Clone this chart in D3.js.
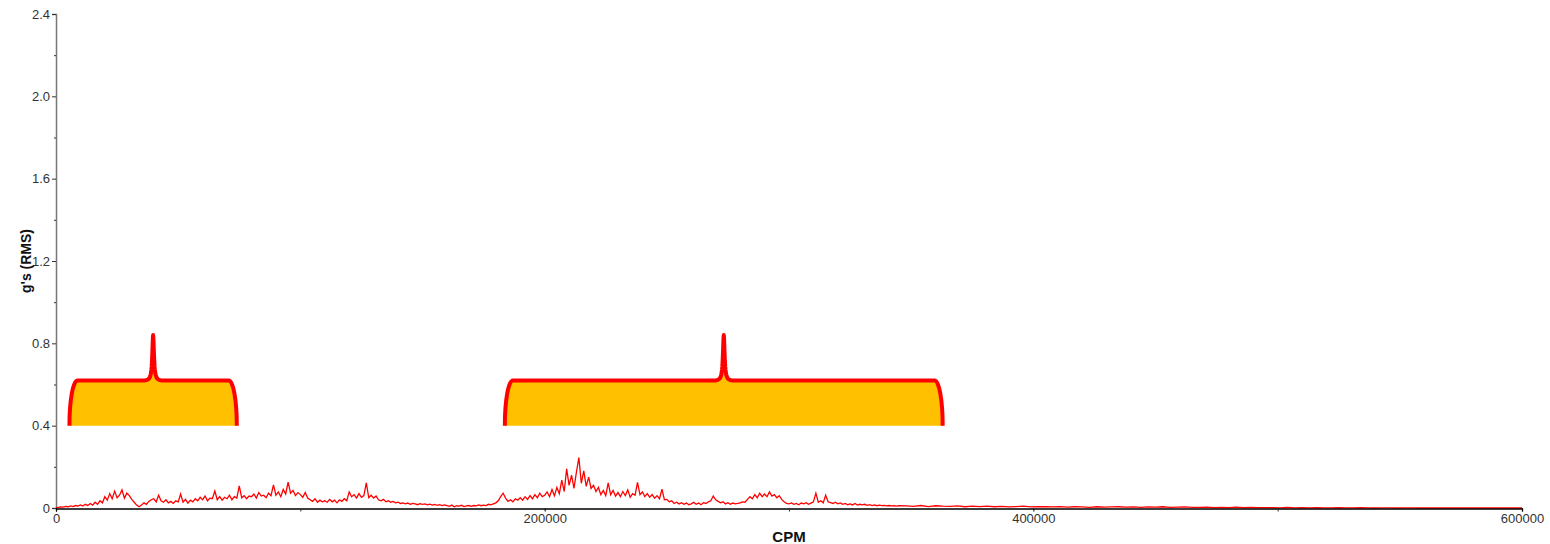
<!DOCTYPE html>
<html>
<head>
<meta charset="utf-8">
<script src="https://cdn.jsdelivr.net/npm/d3@7"></script>
<style>
  body { margin: 0; background: #fff; }
  svg { display: block; font-family: Arial, "Liberation Sans", sans-serif; }
</style>
</head>
<body>
<div id="chart"></div>
<script>
// spectrum in milli-g, dense part: one value every 1000 CPM from 0 to 345000
const denseStep = 1000;
const denseMilliG = [
  0, 3, 5, 4, 8, 6, 10, 7, 12, 9,
  15, 10, 18, 12, 22, 14, 28, 18, 35, 25,
  55, 38, 70, 45, 82, 50, 62, 88, 48, 72,
  60, 42, 28, 14, 6, 15, 25, 18, 32, 40,
  45, 30, 62, 35, 28, 40, 25, 32, 22, 35,
  30, 68, 28, 42, 24, 38, 30, 45, 35, 52,
  40, 58, 35, 48, 45, 82, 40, 55, 38, 52,
  45, 62, 40, 55, 48, 107, 50, 60, 45, 58,
  55, 68, 48, 75, 58, 62, 50, 72, 60, 112,
  62, 78, 55, 90, 68, 126, 72, 85, 60, 75,
  65, 52, 75, 48, 40, 32, 45, 28, 38, 30,
  35, 28, 42, 30, 38, 25, 40, 32, 45, 35,
  78, 55, 65, 48, 70, 52, 60, 122, 50, 62,
  48, 58, 40, 35, 42, 30, 35, 28, 32, 25,
  28, 22, 25, 20, 24, 18, 22, 20, 16, 21,
  18, 20, 15, 19, 14, 17, 13, 16, 12, 15,
  12, 8, 14, 6, 11, 9, 13, 7, 10, 12,
  8, 12, 10, 15, 11, 14, 12, 18, 15, 20,
  25, 35, 55, 72, 48, 32, 40, 30, 45, 38,
  50, 38, 55, 42, 60, 45, 65, 50, 72, 55,
  62, 78, 55, 90, 60, 100, 70, 135, 80, 190,
  110, 160, 95, 175, 245, 120, 180, 105, 150, 95,
  110, 80, 100, 65, 85, 60, 122, 65, 85, 58,
  75, 55, 80, 60, 88, 52, 70, 62, 125, 65,
  78, 55, 70, 52, 65, 48, 60, 45, 92, 40,
  42, 30, 35, 22, 28, 20, 26, 18, 24, 16,
  20, 28, 18, 24, 16, 26, 22, 30, 35, 58,
  40, 32, 25, 30, 20, 26, 18, 24, 20, 22,
  25, 30, 28, 42, 55, 45, 65, 50, 72, 55,
  68, 55, 78, 58, 65, 50, 60, 42, 30, 22,
  20, 25, 18, 22, 16, 24, 20, 26, 18, 24,
  30, 72, 28, 35, 25, 62, 30, 26, 22, 28,
  20, 25, 18, 22, 16, 20, 15, 22, 14, 18,
  15, 18, 13, 16, 12, 15, 11, 14, 12, 13,
  10, 12, 10, 11, 9, 12
];
// spectrum tail in milli-g: one value every 3000 CPM from 348000 to 600000
const tailStart = 348000;
const tailStep = 3000;
const tailMilliG = [
  10, 8, 12, 7, 11, 9, 8, 10, 6, 9,
  7, 9, 6, 8, 5, 7, 9, 5, 7, 6,
  5, 7, 4, 6, 5, 3, 6, 4, 5, 6,
  4, 5, 3, 5, 4, 6, 3, 4, 5, 3,
  3, 4, 2, 3, 2, 4, 2, 3, 2, 2,
  2, 1, 3, 1, 2, 1, 2, 1, 1, 2,
  1, 1, 2, 1, 0, 1, 1, 0, 1, 1,
  0, 1, 0, 1, 0, 0, 1, 0, 0, 0,
  0, 0, 0, 0, 0
];

// alarm bands (CPM) and their levels (g's)
const bandStart = [5500, 183700];
const bandCenter = [39750, 273300];
const bandEnd = [74000, 362900];
const bandBase = 0.4;
const bandLevel = 0.62;
const bandPeak = 0.84;

const yMajor = [0, 0.4, 0.8, 1.2, 1.6, 2.0, 2.4];
const yMinor = [0.2, 0.6, 1.0, 1.4, 1.8, 2.2];
const xMajor = [0, 200000, 400000, 600000];
const xMinor = [100000, 300000, 500000];

const width = 1550, height = 544;
const margin = {top: 14, right: 28, bottom: 36, left: 56};

const svg = d3.select("#chart").append("svg")
  .attr("width", width)
  .attr("height", height);

const x = d3.scaleLinear().domain([0, 600000]).range([margin.left, width - margin.right]);
const y = d3.scaleLinear().domain([0, 2.4]).range([height - margin.bottom, margin.top]);

const spectrum = denseMilliG.map((g, i) => [i * denseStep, g / 1000])
  .concat(tailMilliG.map((g, i) => [tailStart + i * tailStep, g / 1000]));

// band outline: rounded shoulders plus a narrow peak at the centre frequency
function bandPath(i, closed) {
  const x0 = x(bandStart[i]), x1 = x(bandEnd[i]), xc = x(bandCenter[i]);
  const yb = y(bandBase), yl = y(bandLevel), yp = y(bandPeak);
  const rx = 8, ry = yb - yl;
  const w = 1.0, half = 8;
  const edge = 1 / (1 + (half / w) * (half / w));
  let p = `M${x0},${yb} A${rx},${ry} 0 0 1 ${x0 + rx},${yl}`;
  for (let dx = -half; dx <= half + 1e-9; dx += 0.25) {
    const l = (1 / (1 + (dx / w) * (dx / w)) - edge) / (1 - edge);
    p += ` L${xc + dx},${yl - (yl - yp) * l}`;
  }
  p += ` L${x1 - rx},${yl} A${rx},${ry} 0 0 1 ${x1},${yb}`;
  if (closed) p += " Z";
  return p;
}

const bands = svg.append("g");
bandStart.forEach((_, i) => {
  bands.append("path")
    .attr("d", bandPath(i, true))
    .attr("fill", "#ffc000")
    .attr("stroke", "none");
  bands.append("path")
    .attr("d", bandPath(i, false))
    .attr("fill", "none")
    .attr("stroke", "#ff0000")
    .attr("stroke-width", 4)
    .attr("stroke-linejoin", "round");
});

// y axis
const yAxis = svg.append("g")
  .attr("transform", `translate(${margin.left},0)`)
  .call(d3.axisLeft(y).tickValues(yMajor).tickSize(4).tickPadding(2)
    .tickFormat(d => d === 0 ? "0" : d3.format(".1f")(d)));
svg.append("g")
  .attr("transform", `translate(${margin.left},0)`)
  .call(d3.axisLeft(y).tickValues(yMinor).tickSize(2).tickFormat(""))
  .call(g => g.select(".domain").remove())
  .selectAll("line").attr("stroke", "#333");
yAxis.select(".domain").attr("stroke", "#777").attr("stroke-width", 1.5);
yAxis.selectAll("line").attr("stroke", "#333");
yAxis.selectAll("text").attr("fill", "#333").style("font-size", "13px");

// spectrum line
svg.append("path")
  .datum(spectrum)
  .attr("fill", "none")
  .attr("stroke", "#ff0000")
  .attr("stroke-width", 1.3)
  .attr("d", d3.line().x(d => x(d[0])).y(d => y(d[1])));

// x axis
const xAxis = svg.append("g")
  .attr("transform", `translate(0,${height - margin.bottom + 0.5})`)
  .call(d3.axisBottom(x).tickValues(xMajor).tickSize(3).tickPadding(2).tickFormat(d => String(d)));
svg.append("g")
  .attr("transform", `translate(0,${height - margin.bottom + 0.5})`)
  .call(d3.axisBottom(x).tickValues(xMinor).tickSize(3).tickFormat(""))
  .call(g => g.select(".domain").remove())
  .selectAll("line").attr("stroke", "#333");
xAxis.select(".domain").attr("stroke", "#000").attr("stroke-width", 1.3);
xAxis.selectAll("text").attr("fill", "#333").style("font-size", "13px");

// axis titles
svg.append("text")
  .attr("x", x(300000))
  .attr("y", 542)
  .attr("text-anchor", "middle")
  .attr("font-weight", "bold")
  .attr("font-size", 15)
  .attr("fill", "#111")
  .text("CPM");

svg.append("text")
  .attr("transform", `translate(31,${y(1.2)})rotate(-90)`)
  .attr("text-anchor", "middle")
  .attr("font-weight", "bold")
  .attr("font-size", 14)
  .attr("fill", "#111")
  .text("g's (RMS)");
</script>
</body>
</html>
